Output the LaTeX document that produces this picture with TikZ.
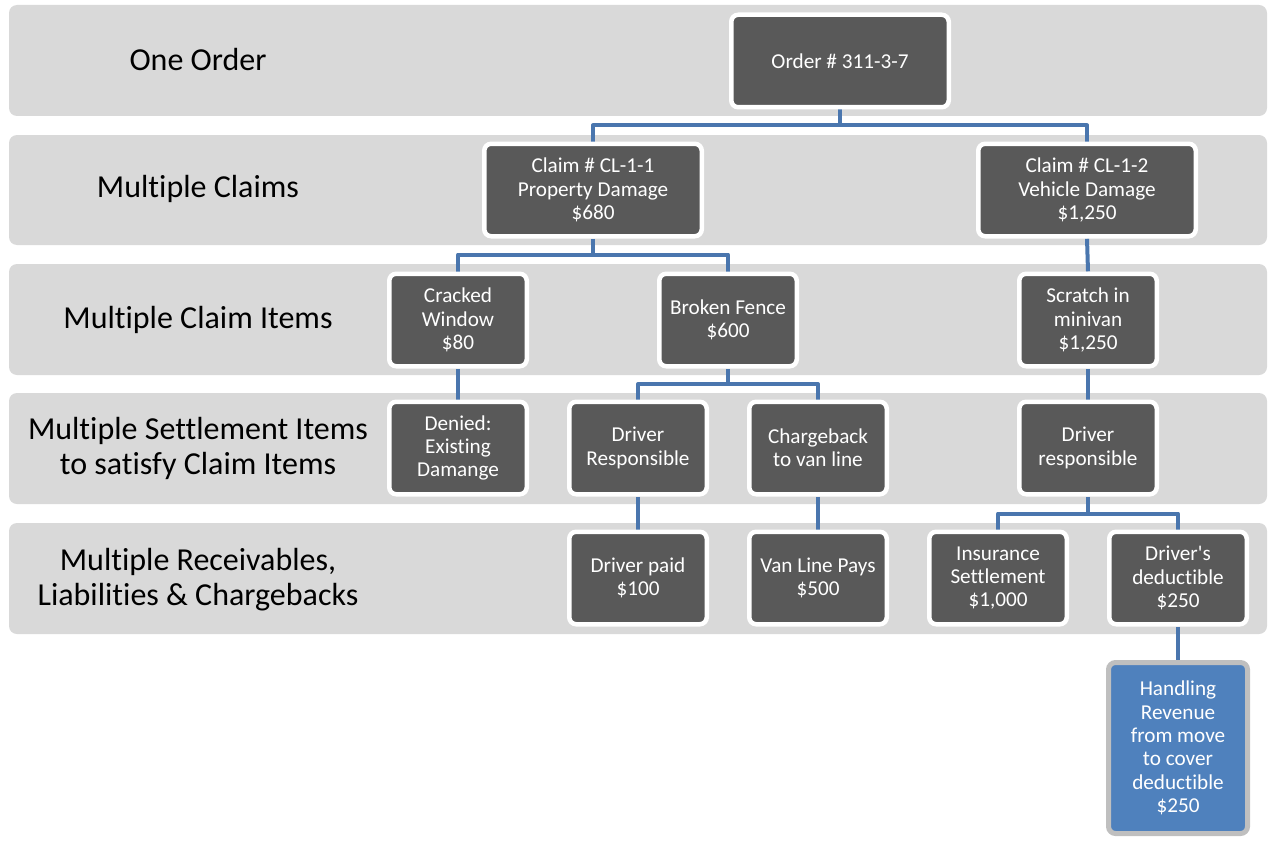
\documentclass[tikz,border=0pt]{standalone}
\usepackage{fontspec}
\setmainfont{Carlito}[Ligatures={TeXOff,NoCommon}]
\usetikzlibrary{positioning}
\definecolor{bandgray}{HTML}{D9D9D9}
\definecolor{boxgray}{HTML}{595959}
\definecolor{connblue}{HTML}{4A76AE}
\definecolor{accblue}{HTML}{4F81BD}
\definecolor{accborder}{HTML}{BFBFBF}
\pgfdeclarelayer{bands}
\pgfdeclarelayer{lines}
\pgfsetlayers{bands,lines,main}
\tikzset{
  band/.style={fill=bandgray, draw=none, rounded corners=8pt},
  rowlabel/.style={align=center, font=\fontsize{32}{35}\selectfont, text=black, inner sep=0pt},
  darkbox/.style={rounded corners=7pt, fill=boxgray, draw=white, line width=4.5pt,
    text=white, align=center, font=\fontsize{21.2}{23.4}\selectfont,
    minimum height=92.5pt, inner sep=0pt, minimum width=137.5pt},
  widebox/.style={darkbox, minimum width=217.5pt},
  accbox/.style={rounded corners=7pt, fill=accblue, draw=accborder, line width=5pt,
    text=white, align=center, font=\fontsize{21.2}{23.4}\selectfont,
    minimum height=171pt, minimum width=139pt, inner sep=0pt},
  conn/.style={draw=connblue, line width=4pt, line join=round}
}
\begin{document}
\begin{tikzpicture}[x=1pt,y=-1pt]
\useasboundingbox (0,0) rectangle (1268,840);
% bands
\begin{pgfonlayer}{bands}
\path[band] (9,5) rectangle (1267,116);
\path[band] (9,135) rectangle (1267,245);
\path[band] (9,264) rectangle (1267,375);
\path[band] (9,393) rectangle (1267,504);
\path[band] (9,523) rectangle (1267,634);
\end{pgfonlayer}
% row labels
\node[rowlabel] (l1) at (198,60) {One Order};
\node[rowlabel] (l2) at (198,189) {Multiple Claims};
\node[rowlabel] (l3) at (198,320) {Multiple Claim Items};
\node[rowlabel] (l4) at (198,448) {Multiple Settlement Items\\to satisfy Claim Items};
\node[rowlabel] (l5) at (198,580) {Multiple Receivables,\\Liabilities \& Chargebacks};
% boxes
\node[widebox] (ord) at (840,61) {Order \# 311-3-7};
\node[widebox] (cl1) at (593,190) {Claim \# CL-1-1\\Property Damage\\\$680};
\node[widebox] (cl2) at (1087,190) {Claim \# CL-1-2\\Vehicle Damage\\\$1,250};
\node[darkbox] (crk) at (458,320) {Cracked\\Window\\\$80};
\node[darkbox] (fen) at (728,320) {Broken Fence\\\$600};
\node[darkbox] (scr) at (1088,320) {Scratch in\\minivan\\\$1,250};
\node[darkbox] (den) at (458,448) {Denied:\\Existing\\Damange};
\node[darkbox] (drr) at (638,448) {Driver\\Responsible};
\node[darkbox] (chb) at (818,448) {Chargeback\\to van line};
\node[darkbox] (drr2) at (1088,448) {Driver\\responsible};
\node[darkbox] (dpd) at (638,578) {Driver paid\\\$100};
\node[darkbox] (vlp) at (818,578) {Van Line Pays\\\$500};
\node[darkbox] (ins) at (998,578) {Insurance\\Settlement\\\$1,000};
\node[darkbox] (ded) at (1178,578) {Driver's\\deductible\\\$250};
\node[accbox] (hnd) at (1178,748) {Handling\\Revenue\\from move\\to cover\\deductible\\\$250};
% junctions
\coordinate (j1) at (840,125.5);
\coordinate (j2) at (593,254.5);
\coordinate (j3) at (728,384);
\coordinate (j4) at (1088,513.5);
\begin{pgfonlayer}{lines}
\draw[conn] (ord.south) -- (j1) -| (cl1.north);
\draw[conn] (j1) -| (cl2.north);
\draw[conn] (cl1.south) -- (j2) -| (crk.north);
\draw[conn] (j2) -| (fen.north);
\draw[conn] (cl2.south) -- (scr.north);
\draw[conn] (crk.south) -- (den.north);
\draw[conn] (fen.south) -- (j3) -| (drr.north);
\draw[conn] (j3) -| (chb.north);
\draw[conn] (scr.south) -- (drr2.north);
\draw[conn] (drr.south) -- (dpd.north);
\draw[conn] (chb.south) -- (vlp.north);
\draw[conn] (drr2.south) -- (j4) -| (ins.north);
\draw[conn] (j4) -| (ded.north);
\draw[conn] (ded.south) -- (hnd.north);
\end{pgfonlayer}
\end{tikzpicture}
\end{document}
